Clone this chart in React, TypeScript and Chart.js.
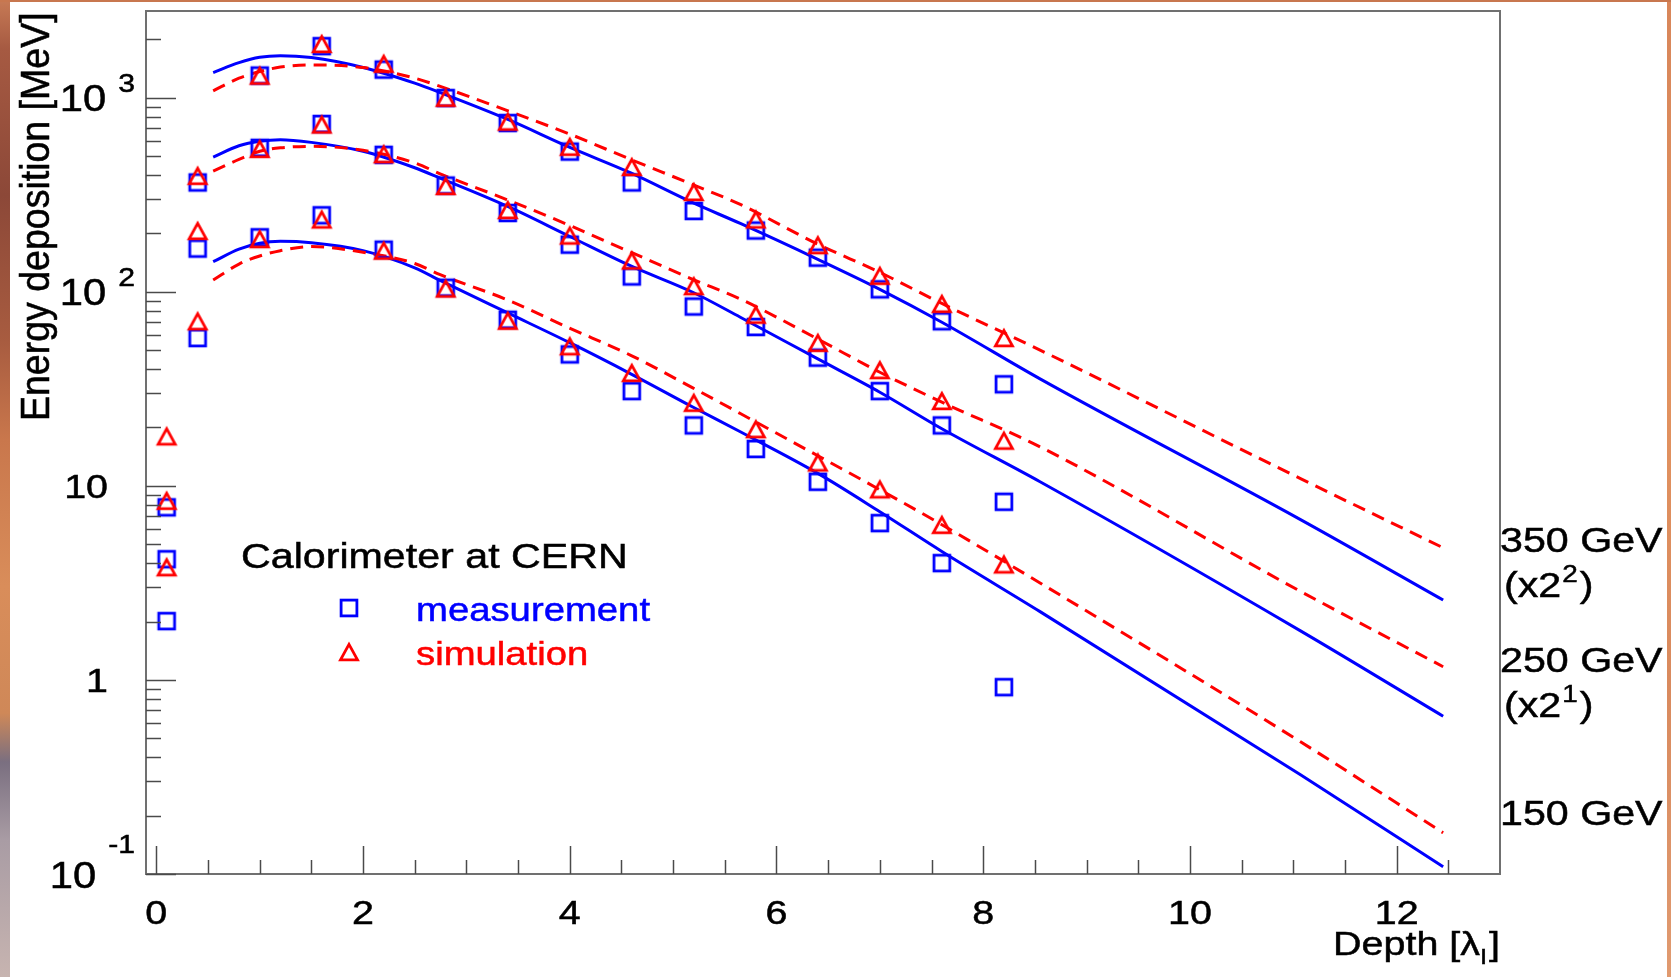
import React, { useEffect, useRef } from "react";
import { Chart, registerables } from "chart.js";

Chart.register(...registerables);

// ---------------- data ----------------
const depth = [0.1, 0.4, 1.0, 1.6, 2.2, 2.8, 3.4, 4.0, 4.6, 5.2, 5.8, 6.4, 7.0, 7.6, 8.2];
const measurement350 = [7.75, 366, 1302, 1845, 1397, 997, 741, 528, 366, 261, 207, 150, 103, 70.5, 33.4];
const simulation350 = [18.0, 396, 1300, 1893, 1497, 1000, 753, 559, 440, 327, 236, 174, 121, 86.7, 57.8];
const measurement250 = [4.19, 167, 552, 733, 508, 353, 255, 175, 120, 84, 65.9, 45.8, 30.8, 20.5, 8.28];
const simulation250 = [8.38, 206, 545, 728, 512, 351, 264, 195, 145, 107, 76.2, 54.6, 39.5, 27.4, 17.1];
const measurement150 = [2.01, 57.8, 191, 248, 165, 105, 71.8, 47.6, 30.8, 20.5, 15.5, 10.5, 6.43, 4.0, 0.918];
const simulation150 = [3.81, 70.5, 187, 236, 163, 104, 71, 52.4, 38.2, 26.8, 19.6, 13.2, 9.6, 6.3, 3.94];

const curveDepth = [0.55, 0.8, 1.0, 1.2, 1.5, 2.0, 2.5, 2.74, 3.39, 3.99, 4.59, 5.19, 5.65, 6.4, 7.0, 7.6, 8.55, 11.07, 12.45];
const fitMeasurement350 = [1349, 1517, 1618, 1648, 1611, 1432, 1189, 1067, 778, 558, 410, 288, 225, 147, 103, 69.7, 35.6, 6.7, 2.58];
const fitSimulation350 = [1086, 1262, 1365, 1439, 1476, 1432, 1262, 1148, 861, 653, 481, 357, 282, 176, 126, 87.1, 50.1, 10.9, 4.8];
const fitMeasurement250 = [495, 566, 597, 608, 589, 530, 436, 387, 277, 194, 136, 99.5, 74.0, 45.1, 30.4, 19.7, 10.5, 1.79, 0.65];
const fitSimulation250 = [419, 481, 530, 552, 562, 536, 462, 407, 299, 221, 160, 116, 91.8, 57.1, 38.5, 27.0, 15.9, 2.86, 1.17];
const fitMeasurement150 = [143, 166, 178, 182, 179, 163, 133, 115, 78.3, 55.0, 37.8, 25.5, 19.0, 11.6, 7.36, 4.59, 2.25, 0.325, 0.109];
const fitSimulation150 = [115, 139, 153, 163, 171, 160, 140, 123, 91.2, 65.3, 47.1, 32.0, 23.6, 14.3, 9.55, 6.31, 3.16, 0.48, 0.163];

const xTickValues = [0, 2, 4, 6, 8, 10, 12];
const xTickLabels = ["0", "2", "4", "6", "8", "10", "12"];
const yTickValues = [0.1, 1, 10, 100, 1000];
const yTickBases = ["10", "1", "10", "10", "10"];
const yTickExponents = ["-1", "", "", "2", "3"];
const energyLabels = ["350 GeV", "250 GeV", "150 GeV"];
const energyScaleExponents = ["2", "1", ""];
const xTitle = "Depth [λ";
const xTitleSub = "I";
const yTitle = "Energy deposition [MeV]";
const legendTitle = "Calorimeter at CERN";
const legendEntries = ["measurement", "simulation"];

const X_MIN = -0.1;
const X_MAX = 13;
const Y_MIN = 0.1;
const Y_MAX = 2800;
const X_MINOR_STEP = 0.5;

const BLUE = "#0000ff";
const RED = "#ff0000";
const FONT = '"Liberation Sans", Arial, Helvetica, sans-serif';
const SX = 1.16; // horizontal stretch of the reference text

const pts = (xs: number[], ys: number[]) => xs.map((x, i) => ({ x, y: ys[i] }));

function makeSquare(): HTMLCanvasElement {
  const c = document.createElement("canvas");
  c.width = 24;
  c.height = 24;
  const g = c.getContext("2d")!;
  g.strokeStyle = BLUE;
  g.lineWidth = 2.8;
  g.strokeRect(12 - 7.9, 12 - 7.9, 15.8, 15.8);
  return c;
}

function makeTriangle(): HTMLCanvasElement {
  const c = document.createElement("canvas");
  c.width = 26;
  c.height = 26;
  const g = c.getContext("2d")!;
  g.strokeStyle = RED;
  g.lineWidth = 2.8;
  g.lineJoin = "miter";
  g.beginPath();
  g.moveTo(13, 13 - 7.6);
  g.lineTo(13 + 8.5, 13 + 7.8);
  g.lineTo(13 - 8.5, 13 + 7.8);
  g.closePath();
  g.stroke();
  return c;
}

function measure(ctx: CanvasRenderingContext2D, s: string, size: number) {
  ctx.font = `${size}px ${FONT}`;
  return ctx.measureText(s).width * SX;
}

function drawText(
  ctx: CanvasRenderingContext2D,
  s: string,
  x: number,
  y: number,
  size: number,
  color = "#000",
  align: "left" | "right" | "center" = "left"
) {
  ctx.save();
  ctx.font = `${size}px ${FONT}`;
  const w = ctx.measureText(s).width * SX;
  let x0 = x;
  if (align === "right") x0 = x - w;
  else if (align === "center") x0 = x - w / 2;
  ctx.fillStyle = color;
  ctx.strokeStyle = color;
  ctx.lineWidth = 0.5;
  ctx.textAlign = "left";
  ctx.textBaseline = "alphabetic";
  ctx.translate(x0, y);
  ctx.scale(SX, 1);
  ctx.fillText(s, 0, 0);
  ctx.strokeText(s, 0, 0);
  ctx.restore();
  return w;
}

function makePlugin(square: HTMLCanvasElement, triangle: HTMLCanvasElement) {
  return {
    id: "rootStyle",
    beforeDraw(chart: any) {
      const ctx: CanvasRenderingContext2D = chart.ctx;
      const W = chart.width;
      const H = chart.height;
      ctx.save();
      ctx.fillStyle = "#ffffff";
      ctx.fillRect(0, 0, W, H);
      const gl = ctx.createLinearGradient(0, 0, 0, H);
      gl.addColorStop(0, "#c77a55");
      gl.addColorStop(0.05, "#a65a42");
      gl.addColorStop(0.2, "#8c4838");
      gl.addColorStop(0.35, "#a85c40");
      gl.addColorStop(0.45, "#c9774c");
      gl.addColorStop(0.6, "#d98d5a");
      gl.addColorStop(0.73, "#cf8858");
      gl.addColorStop(0.78, "#7a6f80");
      gl.addColorStop(0.86, "#a99ca4");
      gl.addColorStop(1, "#c7b4b0");
      ctx.fillStyle = gl;
      ctx.fillRect(0, 0, 10, H);
      const gr = ctx.createLinearGradient(0, 0, 0, H);
      gr.addColorStop(0, "#d8865a");
      gr.addColorStop(0.4, "#e2925f");
      gr.addColorStop(0.7, "#d98a5e");
      gr.addColorStop(1, "#e09a70");
      ctx.fillStyle = gr;
      ctx.fillRect(W - 4, 0, 4, H);
      ctx.fillStyle = "#c8774f";
      ctx.fillRect(0, 0, W, 2);
      ctx.restore();
    },
    afterDraw(chart: any) {
      const ctx: CanvasRenderingContext2D = chart.ctx;
      const { left, right, top, bottom } = chart.chartArea;
      const xs = chart.scales.x;
      const ys = chart.scales.y;
      ctx.save();

      // frame
      ctx.strokeStyle = "#707070";
      ctx.lineWidth = 2;
      ctx.strokeRect(left, top, right - left, bottom - top);

      // y ticks (inside, on the left edge)
      ctx.strokeStyle = "#4a4a4a";
      ctx.lineWidth = 1.5;
      for (let e = -1; e <= 3; e++) {
        for (let m = 1; m <= 9; m++) {
          const v = m * Math.pow(10, e);
          if (v < Y_MIN * 0.999 || v > Y_MAX) continue;
          const py = Math.round(ys.getPixelForValue(v)) + 0.5;
          const len = m === 1 ? 30 : 15;
          ctx.beginPath();
          ctx.moveTo(left, py);
          ctx.lineTo(left + len, py);
          ctx.stroke();
        }
      }
      // x ticks (inside, on the bottom edge)
      for (let k = 0; k * X_MINOR_STEP < X_MAX - 0.01; k++) {
        const t = k * X_MINOR_STEP;
        const px = Math.round(xs.getPixelForValue(t)) + 0.5;
        const major = xTickValues.includes(t);
        ctx.beginPath();
        ctx.moveTo(px, bottom);
        ctx.lineTo(px, bottom - (major ? 28 : 14));
        ctx.stroke();
      }

      // x tick labels
      xTickValues.forEach((v, i) => {
        drawText(ctx, xTickLabels[i], xs.getPixelForValue(v), 924, 34, "#000", "center");
      });

      // y tick labels
      yTickValues.forEach((v, i) => {
        const ty = ys.getPixelForValue(v);
        const exp = yTickExponents[i];
        if (exp) {
          const negative = exp.startsWith("-");
          const we = measure(ctx, exp, 26);
          const ex = 135 - we;
          drawText(ctx, exp, ex, ty + (negative ? -21 : -6), 26);
          drawText(ctx, yTickBases[i], ex - 12, ty + 13.5, 36, "#000", "right");
        } else {
          drawText(ctx, yTickBases[i], 108, ty + 12.5, 34, "#000", "right");
        }
      });

      // x title: Depth [λ_I]
      {
        const w3 = measure(ctx, "]", 34);
        const w2 = measure(ctx, xTitleSub, 22);
        const w1 = measure(ctx, xTitle, 34);
        const end = 1500;
        const x3 = end - w3;
        const x2 = x3 - w2 - 2;
        const x1 = x2 - w1;
        drawText(ctx, xTitle, x1, 955, 34);
        drawText(ctx, xTitleSub, x2, 964, 22);
        drawText(ctx, "]", x3, 955, 34);
      }

      // y title (rotated)
      ctx.save();
      ctx.font = `37.5px ${FONT}`;
      ctx.fillStyle = "#000";
      ctx.strokeStyle = "#000";
      ctx.lineWidth = 0.5;
      ctx.translate(49, 421);
      ctx.scale(1.1, 1);
      ctx.rotate(-Math.PI / 2);
      ctx.textAlign = "left";
      ctx.textBaseline = "alphabetic";
      ctx.fillText(yTitle, 0, 0);
      ctx.strokeText(yTitle, 0, 0);
      ctx.restore();

      // energy labels on the right
      const energyBaselines = [551.7, 671.7, 825];
      energyLabels.forEach((lab, i) => {
        const by = energyBaselines[i];
        drawText(ctx, lab, 1500, by, 35.5);
        const exp = energyScaleExponents[i];
        if (exp) {
          const sb = by + 45;
          let cx = 1504;
          cx += drawText(ctx, "(x2", cx, sb, 35.5);
          cx += drawText(ctx, exp, cx + 1, sb - 15, 24) + 3;
          drawText(ctx, ")", cx, sb, 35.5);
        }
      });

      // legend
      drawText(ctx, legendTitle, 241, 568, 35.5);
      ctx.drawImage(square, 349 - square.width / 2, 608 - square.height / 2);
      ctx.drawImage(triangle, 349 - triangle.width / 2, 652 - triangle.height / 2);
      drawText(ctx, legendEntries[0], 416, 621, 33, BLUE);
      drawText(ctx, legendEntries[1], 416, 665, 33, RED);

      ctx.restore();
    },
  };
}

export default function App() {
  const canvasRef = useRef<HTMLCanvasElement | null>(null);

  useEffect(() => {
    const canvas = canvasRef.current;
    if (!canvas) return;
    const square = makeSquare();
    const triangle = makeTriangle();

    const markerDs = (label: string, ys: number[], style: HTMLCanvasElement, color: string) => ({
      label,
      data: pts(depth, ys),
      showLine: false,
      pointStyle: style,
      pointRadius: 9,
      pointBorderColor: color,
      pointBackgroundColor: "transparent",
      borderColor: color,
    });
    const curveDs = (label: string, ys: number[], color: string, dashed: boolean) => ({
      label,
      data: pts(curveDepth, ys),
      showLine: true,
      borderColor: color,
      borderWidth: 3,
      borderDash: dashed ? [13, 8] : [],
      pointRadius: 0,
      cubicInterpolationMode: "monotone" as const,
      fill: false,
    });

    const chart = new Chart(canvas, {
      type: "line",
      data: {
        datasets: [
          markerDs("simulation 350 GeV", simulation350, triangle, RED),
          markerDs("simulation 250 GeV", simulation250, triangle, RED),
          markerDs("simulation 150 GeV", simulation150, triangle, RED),
          markerDs("measurement 350 GeV", measurement350, square, BLUE),
          markerDs("measurement 250 GeV", measurement250, square, BLUE),
          markerDs("measurement 150 GeV", measurement150, square, BLUE),
          curveDs("fit simulation 350", fitSimulation350, RED, true),
          curveDs("fit simulation 250", fitSimulation250, RED, true),
          curveDs("fit simulation 150", fitSimulation150, RED, true),
          curveDs("fit measurement 350", fitMeasurement350, BLUE, false),
          curveDs("fit measurement 250", fitMeasurement250, BLUE, false),
          curveDs("fit measurement 150", fitMeasurement150, BLUE, false),
        ] as any,
      },
      options: {
        animation: false,
        responsive: false,
        events: [],
        layout: { padding: { left: 146, top: 11, right: 171, bottom: 103 } },
        scales: {
          x: { type: "linear", min: X_MIN, max: X_MAX, display: false },
          y: { type: "logarithmic", min: Y_MIN, max: Y_MAX, display: false },
        },
        plugins: {
          legend: { display: false },
          tooltip: { enabled: false },
        },
      },
      plugins: [makePlugin(square, triangle)],
    });
    return () => chart.destroy();
  }, []);

  return (
    <div style={{ position: "absolute", left: 0, top: 0, width: 1671, height: 977, overflow: "hidden" }}>
      <canvas ref={canvasRef} width={1671} height={977} style={{ display: "block" }} />
    </div>
  );
}
